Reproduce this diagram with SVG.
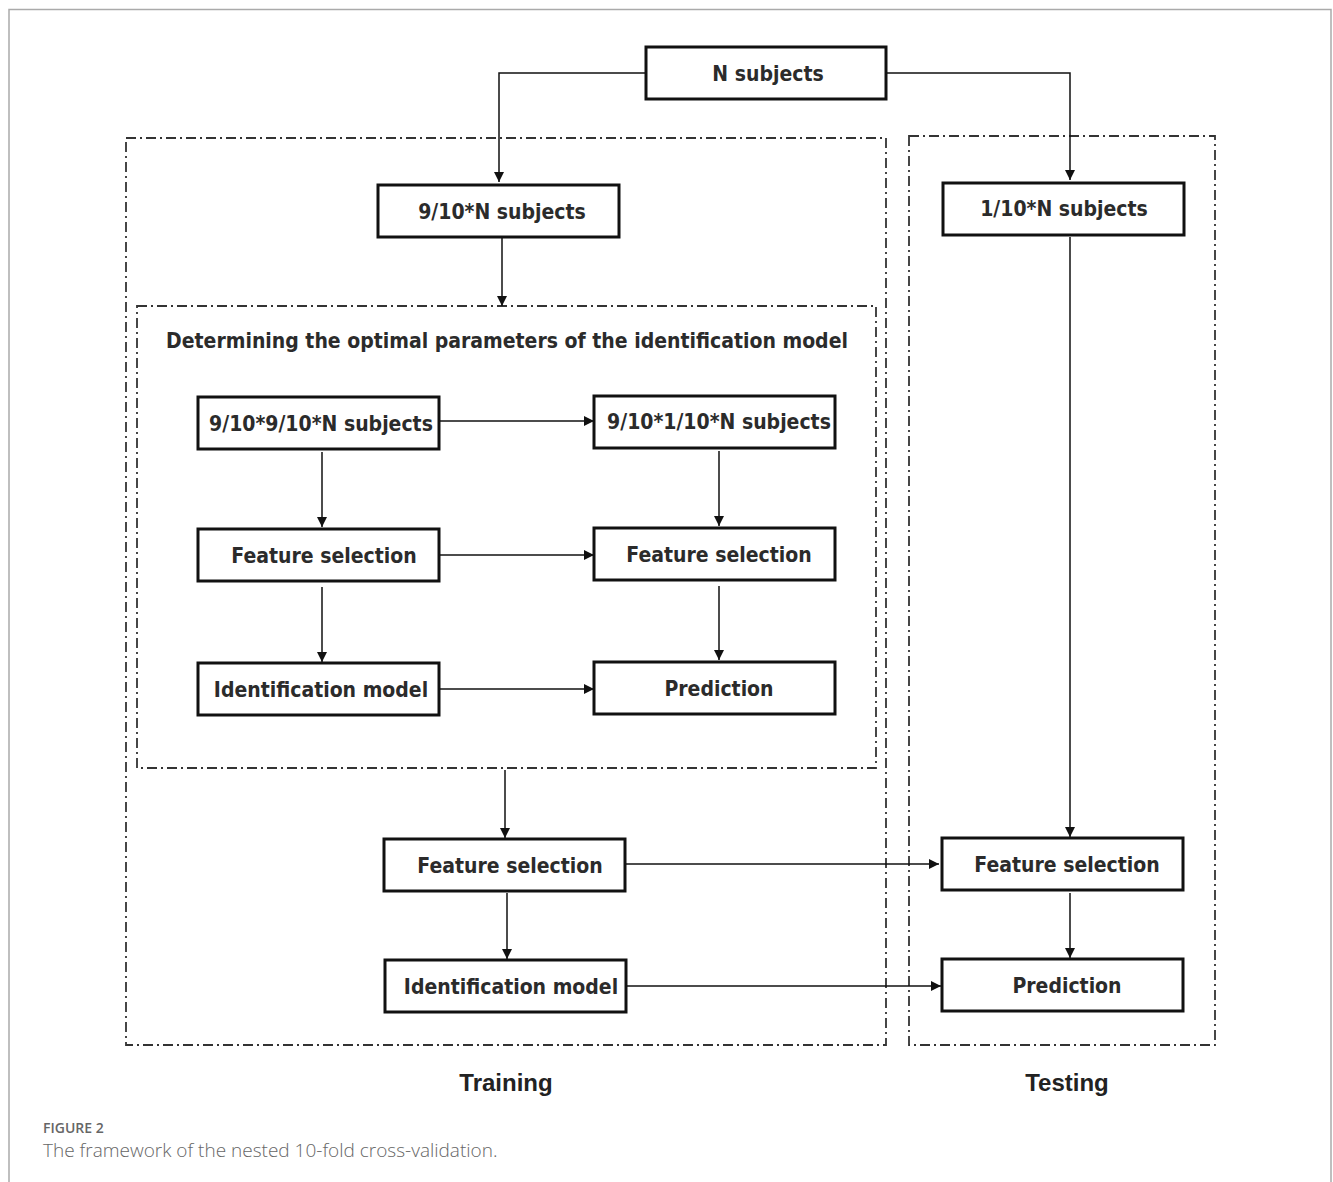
<svg xmlns="http://www.w3.org/2000/svg" width="1333" height="1182" viewBox="0 0 1333 1182">
<style>
.box{fill:#fff;stroke:#111;stroke-width:3}
.lbl{font-family:"DejaVu Sans",sans-serif;font-stretch:condensed;font-weight:bold;font-size:21px;fill:#2b2b2b;text-anchor:middle;dominant-baseline:central}
.dash{fill:none;stroke:#333;stroke-width:1.8;stroke-dasharray:10 4 2 4}
.con{fill:none;stroke:#111;stroke-width:1.5}
.cap{font-family:"Liberation Sans",Arial,sans-serif;font-weight:bold;font-size:24px;fill:#222;text-anchor:middle}
</style>
<defs>
<marker id="ah" viewBox="0 0 10 10" refX="10" refY="5" markerWidth="10" markerHeight="10" markerUnits="userSpaceOnUse" orient="auto">
<path d="M0,0 L10,5 L0,10 z" fill="#111"/>
</marker>
</defs>
<rect width="1333" height="1182" fill="#fff"/>
<path d="M9,1182 V9.5 H1331 V1182" fill="none" stroke="#aaa" stroke-width="1.5"/>
<g id="containers">
<rect class="dash" x="126" y="138" width="760" height="907"/>
<rect class="dash" x="909" y="136" width="306" height="909"/>
<rect class="dash" x="137" y="306" width="739" height="462"/>
<text class="lbl" x="507" y="341">Determining the optimal parameters of the identification model</text>
</g>
<g id="connectors">
<path class="con" d="M646,73 H499 V182" marker-end="url(#ah)"/>
<path class="con" d="M886,73 H1070 V180" marker-end="url(#ah)"/>
<path class="con" d="M502,238 V306" marker-end="url(#ah)"/>
<path class="con" d="M439,421 H594" marker-end="url(#ah)"/>
<path class="con" d="M322,452 V527" marker-end="url(#ah)"/>
<path class="con" d="M719,451 V526" marker-end="url(#ah)"/>
<path class="con" d="M439,555 H594" marker-end="url(#ah)"/>
<path class="con" d="M322,587 V662" marker-end="url(#ah)"/>
<path class="con" d="M719,586 V660" marker-end="url(#ah)"/>
<path class="con" d="M439,689 H594" marker-end="url(#ah)"/>
<path class="con" d="M505,770 V838" marker-end="url(#ah)"/>
<path class="con" d="M507,893 V959" marker-end="url(#ah)"/>
<path class="con" d="M625,864 H939" marker-end="url(#ah)"/>
<path class="con" d="M626,986 H941" marker-end="url(#ah)"/>
<path class="con" d="M1070,237 V837" marker-end="url(#ah)"/>
<path class="con" d="M1070,893 V958" marker-end="url(#ah)"/>
</g>
<g id="n-all"><rect class="box" x="646" y="47" width="240" height="52"/><text class="lbl" x="768" y="74">N subjects</text></g>
<g id="n-train"><rect class="box" x="378" y="185" width="241" height="52"/><text class="lbl" x="502" y="212">9/10*N subjects</text></g>
<g id="n-test"><rect class="box" x="943" y="183" width="241" height="52"/><text class="lbl" x="1064" y="209">1/10*N subjects</text></g>
<g id="n-inner-train"><rect class="box" x="198" y="397" width="241" height="52"/><text class="lbl" x="321" y="424">9/10*9/10*N subjects</text></g>
<g id="n-inner-val"><rect class="box" x="594" y="396" width="241" height="52"/><text class="lbl" x="719" y="422">9/10*1/10*N subjects</text></g>
<g id="n-inner-fs1"><rect class="box" x="198" y="529" width="241" height="52"/><text class="lbl" x="324" y="556">Feature selection</text></g>
<g id="n-inner-fs2"><rect class="box" x="594" y="528" width="241" height="52"/><text class="lbl" x="719" y="555">Feature selection</text></g>
<g id="n-inner-model"><rect class="box" x="198" y="663" width="241" height="52"/><text class="lbl" x="321" y="690">Identification model</text></g>
<g id="n-inner-pred"><rect class="box" x="594" y="662" width="241" height="52"/><text class="lbl" x="719" y="689">Prediction</text></g>
<g id="n-train-fs"><rect class="box" x="384" y="839" width="241" height="52"/><text class="lbl" x="510" y="866">Feature selection</text></g>
<g id="n-train-model"><rect class="box" x="385" y="960" width="241" height="52"/><text class="lbl" x="511" y="987">Identification model</text></g>
<g id="n-test-fs"><rect class="box" x="942" y="838" width="241" height="52"/><text class="lbl" x="1067" y="865">Feature selection</text></g>
<g id="n-test-pred"><rect class="box" x="942" y="959" width="241" height="52"/><text class="lbl" x="1067" y="986">Prediction</text></g>
<text class="cap" x="506" y="1091">Training</text>
<text class="cap" x="1067" y="1091">Testing</text>
<text x="43" y="1133" font-family="Open Sans,sans-serif" font-size="14" font-weight="600" fill="#666">FIGURE 2</text>
<text x="43" y="1157" font-family="Open Sans,sans-serif" font-size="19" fill="#666" font-weight="300">The framework of the nested 10-fold cross-validation.</text>
</svg>
